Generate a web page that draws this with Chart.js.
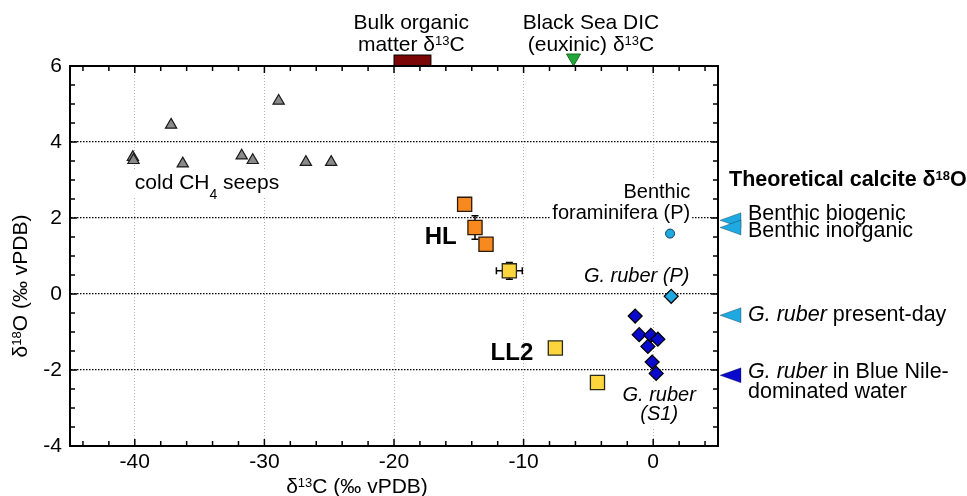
<!DOCTYPE html>
<html>
<head>
<meta charset="utf-8">
<script src="https://cdn.jsdelivr.net/npm/chart.js@4.4.1/dist/chart.umd.min.js"></script>
<style>
  html, body { margin: 0; padding: 0; background: #fff; }
</style>
</head>
<body>
<canvas id="myChart" width="967" height="496"></canvas>
<script>
var FONT = '"Liberation Sans", Arial, sans-serif';

// axis ticks
var xTicks = [-40, -30, -20, -10, 0];
var yTicks = [-4, -2, 0, 2, 4, 6];

// cold CH4 seeps (grey triangles)
var seepC = [-40.15, -40.1, -37.2, -36.3, -31.75, -30.9, -28.9, -26.8, -24.85];
var seepO = [3.6, 3.52, 4.45, 3.43, 3.64, 3.52, 5.08, 3.47, 3.47];

// HL (orange squares)
var hlC = [-14.55, -13.75, -12.9];
var hlO = [2.36, 1.75, 1.31];
var hlErrC = [0, 0, 0];
var hlErrO = [0, 0.31, 0];

// LL2 (yellow squares)
var ll2C = [-11.1, -7.55, -4.3];
var ll2O = [0.61, -1.42, -2.33];
var ll2ErrC = [1.0, 0, 0];
var ll2ErrO = [0.22, 0, 0];

// benthic foraminifera (P)
var benthicC = [1.3];
var benthicO = [1.59];

// G. ruber (P)
var ruberPC = [1.39];
var ruberPO = [-0.06];

// G. ruber (S1)
var ruberS1C = [-1.39, -1.08, -0.18, 0.36, -0.41, -0.08, 0.23];
var ruberS1O = [-0.58, -1.07, -1.09, -1.19, -1.38, -1.79, -2.09];

// theoretical calcite d18O (arrows on the right)
var theoLabels = [['Benthic biogenic'], ['Benthic inorganic'], ['G. ruber present-day'], ['G. ruber in Blue Nile-', 'dominated water']];
var theoO = [1.94, 1.75, -0.56, -2.14];
var theoColors = ['#1ea9e1', '#1ea9e1', '#1ea9e1', '#0a0acd'];

// d13C references on top
var bulkOrgRange = [-20, -17.15];
var blackSeaDIC = -6.15;

function pts(xs, ys) {
  return xs.map(function(v, i) { return {x: v, y: ys[i]}; });
}

function seg(t, f) { var s = {t: t}; for (var k in f) s[k] = f[k]; return s; }
function segSize(s, size) { return s.sup ? Math.round(size * 0.6) : s.sub ? Math.round(size * 0.68) : size; }
function fontStr(s, size) { return (s.i ? 'italic ' : '') + (s.b ? 'bold ' : '') + size + 'px ' + FONT; }
function richWidth(ctx, segs, size) {
  var w = 0;
  segs.forEach(function(s) { ctx.font = fontStr(s, segSize(s, size)); w += ctx.measureText(s.t).width; });
  return w;
}
function drawRich(ctx, segs, x, y, align, size, box) {
  var w = richWidth(ctx, segs, size);
  var cx = align === 'center' ? x - w / 2 : align === 'right' ? x - w : x;
  if (box) {
    ctx.fillStyle = '#fff';
    ctx.fillRect(cx - 2, y - size * 0.62, w + 4, size * 1.24);
  }
  ctx.fillStyle = '#000';
  ctx.textAlign = 'left';
  ctx.textBaseline = 'middle';
  segs.forEach(function(s) {
    var fs = segSize(s, size);
    ctx.font = fontStr(s, fs);
    var dy = s.sup ? -size * 0.15 : s.sub ? size * 0.55 : 0;
    ctx.fillText(s.t, cx, y + dy);
    cx += ctx.measureText(s.t).width;
  });
}
function ruberLine(line) {
  if (line.indexOf('G. ruber') === 0) return [seg('G. ruber', {i: 1}), seg(line.slice(8))];
  return [seg(line)];
}

// labels inside the plot, anchored in data units
var notes = [
  {x: -40, y: 2.91, align: 'left', size: 21, box: true, lines: [[seg('cold CH'), seg('4', {sub: 1}), seg(' seeps')]]},
  {x: -16.4, y: 1.49, align: 'center', size: 24, lines: [[seg('HL', {b: 1})]]},
  {x: -10.9, y: -1.56, align: 'center', size: 24, lines: [[seg('LL2', {b: 1})]]},
  {x: 2.85, y: 2.67, align: 'right', size: 20, box: true, gap: 21, lines: [[seg('Benthic')], [seg('foraminifera (P)')]]},
  {x: 2.8, y: 0.47, align: 'right', size: 20, box: true, lines: [[seg('G. ruber (P)', {i: 1})]]},
  {x: 0.46, y: -2.67, align: 'center', size: 20, box: true, gap: 19, lines: [[seg('G. ruber', {i: 1})], [seg('(S1)', {i: 1})]]}
];
var topNotes = [
  {x: -18.67, lines: [[seg('Bulk organic')], [seg('matter δ'), seg('13', {sup: 1}), seg('C')]]},
  {x: -4.8, lines: [[seg('Black Sea DIC')], [seg('(euxinic) δ'), seg('13', {sup: 1}), seg('C')]]}
];
var theoShift = [-6, 4, 0, -3];

var errorBars = {
  id: 'errorBars',
  beforeDatasetsDraw: function(chart) {
    var ctx = chart.ctx, x = chart.scales.x, y = chart.scales.y;
    var sets = [[hlC, hlO, hlErrC, hlErrO], [ll2C, ll2O, ll2ErrC, ll2ErrO]];
    ctx.save();
    ctx.strokeStyle = '#000';
    ctx.lineWidth = 1.5;
    sets.forEach(function(s) {
      s[0].forEach(function(v, i) {
        var px = x.getPixelForValue(v), py = y.getPixelForValue(s[1][i]);
        ctx.beginPath();
        if (s[2][i]) {
          var x1 = x.getPixelForValue(v - s[2][i]), x2 = x.getPixelForValue(v + s[2][i]);
          ctx.moveTo(x1, py); ctx.lineTo(x2, py);
          ctx.moveTo(x1, py - 3.5); ctx.lineTo(x1, py + 3.5);
          ctx.moveTo(x2, py - 3.5); ctx.lineTo(x2, py + 3.5);
        }
        if (s[3][i]) {
          var y1 = y.getPixelForValue(s[1][i] - s[3][i]), y2 = y.getPixelForValue(s[1][i] + s[3][i]);
          ctx.moveTo(px, y1); ctx.lineTo(px, y2);
          ctx.moveTo(px - 3.5, y1); ctx.lineTo(px + 3.5, y1);
          ctx.moveTo(px - 3.5, y2); ctx.lineTo(px + 3.5, y2);
        }
        ctx.stroke();
      });
    });
    ctx.restore();
  }
};

var annotations = {
  id: 'annotations',
  beforeDatasetsDraw: function(chart) {
    var ctx = chart.ctx, x = chart.scales.x, y = chart.scales.y;
    ctx.save();
    notes.forEach(function(n) {
      var px = x.getPixelForValue(n.x), py = y.getPixelForValue(n.y);
      n.lines.forEach(function(l, k) {
        drawRich(ctx, l, px, py + k * (n.gap || 0), n.align, n.size, n.box);
      });
    });
    ctx.restore();
  },
  afterDraw: function(chart) {
    var ctx = chart.ctx, a = chart.chartArea, x = chart.scales.x, y = chart.scales.y;
    ctx.save();
    // top references
    topNotes.forEach(function(n) {
      var px = x.getPixelForValue(n.x);
      n.lines.forEach(function(l, k) { drawRich(ctx, l, px, a.top - 43 + k * 22, 'center', 21); });
    });
    var bx1 = x.getPixelForValue(bulkOrgRange[0]), bx2 = x.getPixelForValue(bulkOrgRange[1]);
    ctx.fillStyle = '#7a0606';
    ctx.strokeStyle = '#000';
    ctx.lineWidth = 1;
    ctx.fillRect(bx1, a.top - 11, bx2 - bx1, 11);
    ctx.strokeRect(bx1, a.top - 11, bx2 - bx1, 11);
    var gx = x.getPixelForValue(blackSeaDIC);
    ctx.fillStyle = '#22a83a';
    ctx.strokeStyle = '#146b24';
    ctx.beginPath();
    ctx.moveTo(gx - 7, a.top - 12); ctx.lineTo(gx + 7, a.top - 12); ctx.lineTo(gx, a.top);
    ctx.closePath(); ctx.fill(); ctx.stroke();

    // theoretical calcite arrows
    drawRich(ctx, [seg('Theoretical calcite δ', {b: 1}), seg('18', {b: 1, sup: 1}), seg('O', {b: 1})], a.right + 11, y.getPixelForValue(3), 'left', 21.5);
    theoO.forEach(function(v, i) {
      var py = y.getPixelForValue(v);
      ctx.fillStyle = theoColors[i];
      ctx.strokeStyle = 'rgba(0,0,0,0.35)';
      ctx.lineWidth = 0.8;
      ctx.beginPath();
      ctx.moveTo(a.right + 2, py); ctx.lineTo(a.right + 23, py - 7.5); ctx.lineTo(a.right + 23, py + 7.5);
      ctx.closePath(); ctx.fill(); ctx.stroke();
    });
    theoLabels.forEach(function(lines, i) {
      var py = y.getPixelForValue(theoO[i]) + theoShift[i];
      lines.forEach(function(l, k) { drawRich(ctx, ruberLine(l), a.right + 30, py + k * 20, 'left', 21.5); });
    });

    // frame and inward ticks
    ctx.strokeStyle = '#000';
    ctx.lineWidth = 2;
    ctx.beginPath();
    ctx.moveTo(a.left, a.top); ctx.lineTo(a.right, a.top); ctx.lineTo(a.right, a.bottom);
    ctx.stroke();
    ctx.lineWidth = 1.5;
    ctx.beginPath();
    for (var v = -44; v <= 4; v += 2) {
      var px = x.getPixelForValue(v), len = v % 10 === 0 ? 7 : 5;
      ctx.moveTo(px, a.bottom); ctx.lineTo(px, a.bottom - len);
      ctx.moveTo(px, a.top); ctx.lineTo(px, a.top + len);
    }
    for (var w = -3.5; w <= 5.5; w += 0.5) {
      var py = y.getPixelForValue(w), ln = w % 2 === 0 ? 7 : 5;
      ctx.moveTo(a.left, py); ctx.lineTo(a.left + ln, py);
      ctx.moveTo(a.right, py); ctx.lineTo(a.right - ln, py);
    }
    ctx.stroke();

    // axis titles
    drawRich(ctx, [seg('δ'), seg('13', {sup: 1}), seg('C (‰ vPDB)')], 357, 487, 'center', 21);
    ctx.translate(21, 286);
    ctx.rotate(-Math.PI / 2);
    drawRich(ctx, [seg('δ'), seg('18', {sup: 1}), seg('O (‰ vPDB)')], 0, 0, 'center', 21);
    ctx.restore();
  }
};

var ctx = document.getElementById('myChart').getContext('2d');
new Chart(ctx, {
  type: 'scatter',
  data: {
    datasets: [{
      label: 'cold CH4 seeps',
      data: pts(seepC, seepO),
      pointStyle: 'triangle',
      pointRadius: 6.5,
      backgroundColor: '#8a8a8a',
      borderColor: '#1a1a1a',
      pointBorderWidth: 1.2
    }, {
      label: 'HL',
      data: pts(hlC, hlO),
      pointStyle: 'rect',
      pointRadius: 10,
      backgroundColor: '#f7891f',
      borderColor: '#2a1a0a',
      pointBorderWidth: 1.3
    }, {
      label: 'LL2',
      data: pts(ll2C, ll2O),
      pointStyle: 'rect',
      pointRadius: 10,
      backgroundColor: '#fdd63e',
      borderColor: '#2a2a1a',
      pointBorderWidth: 1.3
    }, {
      label: 'Benthic foraminifera (P)',
      data: pts(benthicC, benthicO),
      pointStyle: 'circle',
      pointRadius: 4.5,
      backgroundColor: '#1ea9e1',
      borderColor: '#0b3d5c',
      pointBorderWidth: 1
    }, {
      label: 'G. ruber (P)',
      data: pts(ruberPC, ruberPO),
      pointStyle: 'rectRot',
      pointRadius: 7,
      backgroundColor: '#1ea9e1',
      borderColor: '#000',
      pointBorderWidth: 1.2
    }, {
      label: 'G. ruber (S1)',
      data: pts(ruberS1C, ruberS1O),
      pointStyle: 'rectRot',
      pointRadius: 7,
      backgroundColor: '#0a0acd',
      borderColor: '#000',
      pointBorderWidth: 1.2
    }]
  },
  options: {
    responsive: false,
    animation: false,
    layout: { padding: { left: 0, right: 249, top: 66, bottom: 0 } },
    plugins: { legend: { display: false }, tooltip: { enabled: false } },
    scales: {
      x: {
        type: 'linear',
        min: -45,
        max: 5,
        afterBuildTicks: function(s) { s.ticks = xTicks.map(function(v) { return {value: v}; }); },
        afterFit: function(s) { s.height = 50; },
        grid: { color: '#b4b4b4', lineWidth: 1, drawTicks: false },
        border: { display: true, color: '#000', width: 2, dash: [1, 2] },
        ticks: { color: '#000', font: { family: FONT, size: 21 }, padding: 4, maxRotation: 0 }
      },
      y: {
        type: 'linear',
        min: -4,
        max: 6,
        afterBuildTicks: function(s) { s.ticks = yTicks.map(function(v) { return {value: v}; }); },
        afterFit: function(s) { s.width = 70; },
        grid: {
          color: function(c) { return (c.tick && (c.tick.value === 6 || c.tick.value === -4)) ? 'rgba(0,0,0,0)' : '#000'; },
          lineWidth: 1.2,
          drawTicks: false
        },
        border: { display: true, color: '#000', width: 2, dash: [1.5, 1.5] },
        ticks: { color: '#000', font: { family: FONT, size: 21 }, padding: 8 }
      }
    }
  },
  plugins: [errorBars, annotations]
});
</script>
</body>
</html>
